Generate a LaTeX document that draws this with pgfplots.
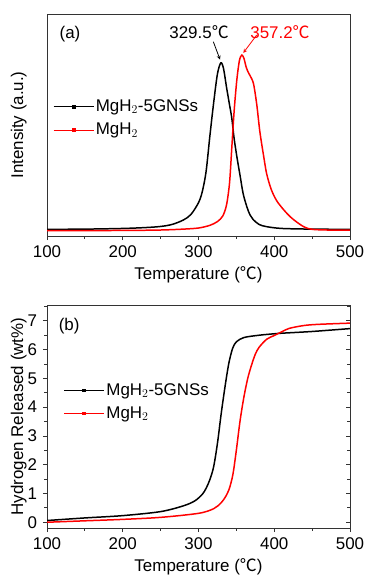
\documentclass[border=0pt]{standalone}
\usepackage{pgfplots}
\pgfplotsset{compat=1.18}
\usepackage{fontspec}
\setmainfont{Liberation Sans}
\newfontfamily\cjk{Noto Sans CJK SC}
\newcommand{\degC}{{\cjk ℃}}
\begin{document}
\fontsize{17}{20}\selectfont
\begin{tikzpicture}
\path[use as bounding box] (-47bp,14bp) rectangle (320bp,-565bp);
\pgfplotsset{
  myaxis/.style={
    scale only axis, width=303bp, height=222bp,
    xmin=100, xmax=500,
    xtick={100,200,300,400,500},
    minor xtick={150,250,350,450},
    tick align=outside,
    major tick length=4bp, minor tick length=2.5bp,
    axis line style={line width=0.8pt, black!80},
    every tick/.style={line width=0.8pt, black!80},
    xtick pos=bottom,
    /pgf/number format/assume math mode=true,
    tick label style={font=\fontsize{17}{20}\selectfont},
    label style={font=\fontsize{17}{20}\selectfont},
    xlabel={Temperature (\degC)},
    xlabel style={yshift=3bp},
    ylabel style={at={(axis description cs:-0.093,0.5)}, anchor=center},
    legend style={draw=none, fill=none, font=\fontsize{17}{20}\selectfont, row sep=5bp, inner sep=0pt, nodes={inner sep=2pt}},
    legend cell align=left,
    legend image code/.code={
      \draw[line width=0.6pt,##1] (0bp,0bp) -- (40bp,0bp);
      \fill[##1] (18.8bp,-1bp) rectangle (21.2bp,1bp);
    },
  }
}
% ---------------- (a) ----------------
\begin{axis}[myaxis, at={(0,0)}, anchor=north west,
  ymin=0, ymax=1, ytick=\empty,
  ylabel={Intensity (a.u.)},
  legend style={at={(axis description cs:0.02,0.53)}, anchor=west},
]
\addplot[black, line width=1.5pt, smooth, tension=0.5] coordinates {
(100,0.030) (150,0.031) (200,0.034) (230,0.038) (250,0.043) (265,0.052)
(280,0.072) (290,0.097) (300,0.15) (305,0.20) (310,0.29) (315,0.45)
(320,0.60) (325,0.73) (329.5,0.78) (333,0.755) (337,0.67) (341,0.59)
(344,0.53) (347,0.44) (351,0.35) (355,0.27) (359,0.19) (364,0.13)
(368,0.095) (372,0.075) (380,0.052) (390,0.042) (410,0.034) (450,0.031) (500,0.030)
};
\addlegendentry{MgH$_2$-5GNSs}
\addplot[red, line width=1.5pt, smooth, tension=0.5] coordinates {
(100,0.024) (200,0.025) (250,0.027) (280,0.031) (300,0.036) (315,0.048)
(325,0.065) (332,0.09) (337,0.14) (341,0.24) (344,0.40) (347,0.56)
(350.5,0.70) (354,0.79) (357.2,0.815) (360,0.80) (363,0.76) (366,0.735)
(370,0.71) (373,0.68) (377,0.59) (381,0.47) (386,0.36) (390,0.28)
(396,0.21) (403,0.16) (412,0.12) (421,0.087) (430,0.062) (440,0.040)
(450,0.030) (470,0.027) (500,0.027)
};
\addlegendentry{MgH$_2$}
\node[font=\fontsize{17}{20}\selectfont] at (axis description cs:0.076,0.91) {(a)};
\node[font=\fontsize{17}{20}\selectfont, black] at (axis cs:300.7,0.917) {329.5\degC};
\node[font=\fontsize{17}{20}\selectfont, red] at (axis cs:407.6,0.917) {357.2\degC};
\draw[-stealth, black, line width=0.8pt] (axis cs:319.6,0.875) -- (axis cs:328.4,0.795);
\draw[-stealth, red, line width=0.8pt] (axis cs:376.8,0.905) -- (axis cs:359.2,0.825);
\end{axis}
% ---------------- (b) ----------------
\begin{axis}[myaxis, at={(0,-291bp)}, anchor=north west, height=223bp,
  ymin=-0.2, ymax=7.55,
  ytick={0,1,2,3,4,5,6,7},
  minor ytick={0.5,1.5,2.5,3.5,4.5,5.5,6.5,7.5},
  ytick pos=left,
  ylabel={Hydrogen Released (wt\%)},
  legend style={at={(axis description cs:0.055,0.565)}, anchor=west},
]
\addplot[black, line width=1.5pt, smooth, tension=0.5] coordinates {
(100,0.06) (150,0.15) (200,0.23) (250,0.37) (280,0.57) (295,0.74) (305,0.97)
(310,1.18) (315,1.48) (320,1.93) (325,2.74) (330,3.78) (335,4.71) (340,5.52)
(345,6.04) (350,6.27) (360,6.42) (380,6.50) (400,6.55) (410,6.57)
(450,6.63) (500,6.73)
};
\addlegendentry{MgH$_2$-5GNSs}
\addplot[red, line width=1.5pt, smooth, tension=0.5] coordinates {
(100,0.0) (150,0.05) (200,0.10) (250,0.17) (300,0.31) (320,0.47)
(330,0.68) (336,0.90) (340,1.12) (343,1.38) (346,1.75) (350,2.51) (355,3.55) (360,4.36)
(365,5.0) (370,5.46) (375,5.84) (380,6.08) (390,6.36) (400,6.49)
(410,6.62) (420,6.74) (440,6.84) (460,6.88) (500,6.92)
};
\addlegendentry{MgH$_2$}
\node[font=\fontsize{17}{20}\selectfont] at (axis description cs:0.073,0.906) {(b)};
\end{axis}
\begin{axis}[scale only axis, width=303bp, height=223bp,
  at={(0,-291bp)}, anchor=north west,
  xmin=100, xmax=500, ymin=-0.2, ymax=7.55,
  axis x line=none, axis y line*=right,
  axis line style={line width=0.8pt, black!80},
  every tick/.style={line width=0.8pt, black!80},
  ytick={0,1,2,3,4,5,6,7},
  minor ytick={0.5,1.5,2.5,3.5,4.5,5.5,6.5,7.5},
  yticklabels={}, tick align=inside,
  major tick length=4bp, minor tick length=2.5bp,
]
\addplot[draw=none] coordinates {(100,0) (500,0)};
\end{axis}
\end{tikzpicture}
\end{document}
